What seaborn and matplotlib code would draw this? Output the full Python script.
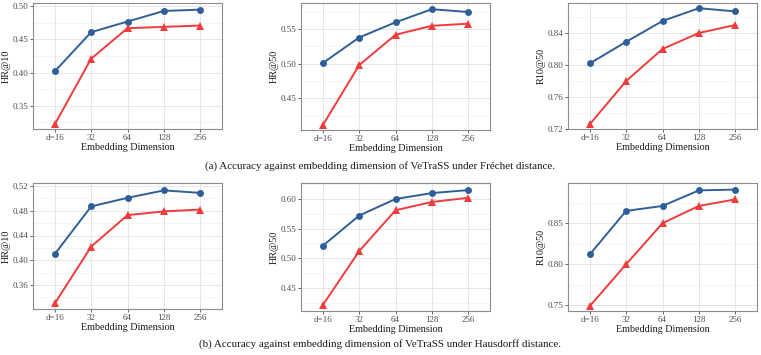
import matplotlib
matplotlib.use("Agg")
import matplotlib.pyplot as plt
import pandas as pd
import seaborn as sns
from matplotlib.ticker import MultipleLocator

dims = ["d=16", "32", "64", "128", "256"]

# (a) Frechet distance
fre_hr10_blue = [0.402, 0.461, 0.477, 0.493, 0.495]
fre_hr10_red = [0.322, 0.421, 0.467, 0.469, 0.471]
fre_hr50_blue = [0.501, 0.538, 0.560, 0.579, 0.575]
fre_hr50_red = [0.411, 0.498, 0.542, 0.555, 0.558]
fre_r1050_blue = [0.802, 0.829, 0.855, 0.871, 0.867]
fre_r1050_red = [0.726, 0.780, 0.820, 0.840, 0.850]

# (b) Hausdorff distance
hau_hr10_blue = [0.410, 0.487, 0.501, 0.513, 0.509]
hau_hr10_red = [0.330, 0.422, 0.473, 0.479, 0.482]
hau_hr50_blue = [0.521, 0.572, 0.600, 0.610, 0.615]
hau_hr50_red = [0.421, 0.512, 0.581, 0.595, 0.602]
hau_r1050_blue = [0.812, 0.865, 0.871, 0.890, 0.891]
hau_r1050_red = [0.749, 0.800, 0.850, 0.871, 0.879]

BLUE = "#2F5F98"
RED = "#F03C3C"

sns.set_theme(style="white")
plt.rcParams["font.family"] = ["Liberation Serif", "DejaVu Serif"]

W, H = 761, 355
fig = plt.figure(figsize=(W / 100, H / 100), dpi=100)


def add_panel(px_left, px_top, px_right, px_bottom):
    return fig.add_axes([px_left / W, 1 - px_bottom / H,
                         (px_right - px_left) / W, (px_bottom - px_top) / H])


panels = [
    # (box px), blue, red, ylabel, ylim, major step
    ((33, 3, 222, 129), fre_hr10_blue, fre_hr10_red, "HR@10", (0.315, 0.505), 0.05),
    ((301, 3, 490, 130), fre_hr50_blue, fre_hr50_red, "HR@50", (0.404, 0.588), 0.05),
    ((568, 3, 757, 129), fre_r1050_blue, fre_r1050_red, "R10@50", (0.72, 0.8775), 0.04),
    ((33, 183, 222, 309), hau_hr10_blue, hau_hr10_red, "HR@10", (0.321, 0.525), 0.04),
    ((301, 183, 490, 311), hau_hr50_blue, hau_hr50_red, "HR@50", (0.411, 0.627), 0.05),
    ((568, 183, 757, 311), hau_r1050_blue, hau_r1050_red, "R10@50", (0.743, 0.899), 0.05),
]

for box, blue, red, ylab, ylim, step in panels:
    ax = add_panel(*box)
    df = pd.DataFrame({
        "Dim": dims * 2,
        "pos": list(range(len(dims))) * 2,
        "value": blue + red,
        "model": ["blue"] * len(dims) + ["red"] * len(dims),
    })
    ax.set_axisbelow(True)
    ax.yaxis.set_major_locator(MultipleLocator(step))
    ax.yaxis.set_minor_locator(MultipleLocator(step / 2))
    ax.grid(True, which="major", color="#E6E6E6", linewidth=0.7)
    ax.grid(True, which="minor", axis="y", color="#F2F2F2", linewidth=0.5)
    sns.lineplot(data=df[df["model"] == "blue"], x="pos", y="value", color=BLUE,
                 marker="o", markersize=5, markeredgewidth=0, linewidth=1.4, ax=ax)
    sns.lineplot(data=df[df["model"] == "red"], x="pos", y="value", color=RED,
                 marker="^", markersize=6, markeredgewidth=0, linewidth=1.4, ax=ax)
    ax.set_xlim(-0.6, len(dims) - 0.4)
    ax.set_ylim(*ylim)
    ax.set_xticks(range(len(dims)))
    ax.set_xticklabels(dims)
    ax.set_xlabel("Embedding Dimension", fontsize=7.3, color="#1A1A1A", labelpad=0.5)
    ax.set_ylabel(ylab, fontsize=7.3, color="#1A1A1A", labelpad=1.5)
    ax.tick_params(axis="both", which="major", labelsize=6.5, colors="#4D4D4D",
                   length=2, width=0.6, pad=1.5, left=True, bottom=True)
    ax.tick_params(axis="both", which="minor", length=0)
    for sp in ax.spines.values():
        sp.set_color("#8C8C8C")
        sp.set_linewidth(0.8)
    if ax.get_legend() is not None:
        ax.get_legend().remove()

fig.text(380 / W, 1 - 166 / H,
         "(a) Accuracy against embedding dimension of VeTraSS under Fréchet distance.",
         ha="center", va="center", fontsize=7.9, color="#1A1A1A")
fig.text(380 / W, 1 - 344 / H,
         "(b) Accuracy against embedding dimension of VeTraSS under Hausdorff distance.",
         ha="center", va="center", fontsize=7.9, color="#1A1A1A")

fig.savefig("out.png", dpi=100)
